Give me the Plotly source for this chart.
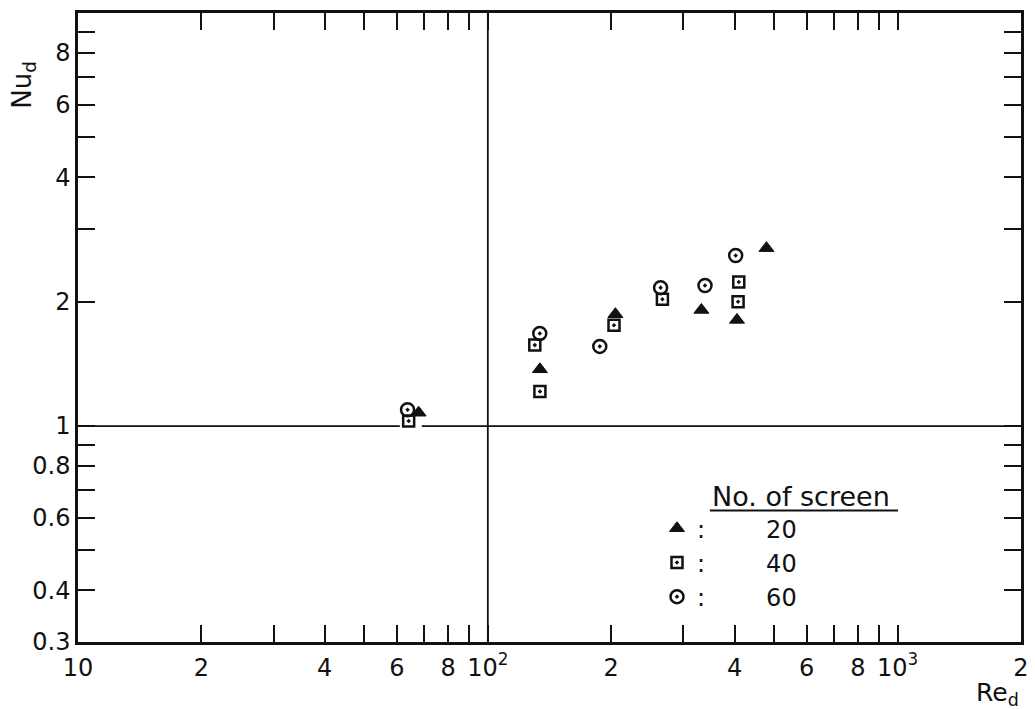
import plotly.graph_objects as go
import math

# Data (Re_d, Nu_d)
re_20 = [67.8, 134.0, 204.8, 332.0, 405.5, 478.6]
nu_20 = [1.077, 1.372, 1.865, 1.910, 1.807, 2.696]
re_40 = [64.1, 130.2, 134.0, 203.2, 266.7, 409.6, 408.0]
nu_40 = [1.028, 1.570, 1.212, 1.754, 2.027, 2.232, 2.000]
re_60 = [63.7, 133.9, 187.6, 264.0, 338.8, 402.5]
nu_60 = [1.095, 1.676, 1.559, 2.163, 2.190, 2.587]

series_names = ["20", "40", "60"]

x_tickvals = [10, 20, 30, 40, 50, 60, 70, 80, 90, 100, 200, 300, 400, 500, 600, 700, 800, 900, 1000, 2000]
x_ticktext = ["10", "2", "", "4", "", "6", "", "8", "", "10<sup>2</sup>",
              "2", "", "4", "", "6", "", "8", "", "10<sup>3</sup>", "2"]
y_tickvals = [0.3, 0.4, 0.5, 0.6, 0.7, 0.8, 0.9, 1, 2, 3, 4, 5, 6, 7, 8, 9]
y_ticktext = ["0.3", "0.4", "", "0.6", "", "0.8", "", "1", "2", "", "4", "", "6", "", "8", ""]

x_range = [10, 2000]
y_range = [0.3, 10]

# reference lines
hline_y = 1
hline_seg1 = [10, 61]
hline_seg2 = [69, 2000]
vline_x = 100

FONT = "DejaVu Sans"
BLACK = "#111111"

fig = go.Figure()

# reference lines
fig.add_trace(go.Scatter(x=hline_seg1, y=[hline_y, hline_y], mode="lines",
                         line=dict(color=BLACK, width=1.8), showlegend=False, hoverinfo="skip"))
fig.add_trace(go.Scatter(x=hline_seg2, y=[hline_y, hline_y], mode="lines",
                         line=dict(color=BLACK, width=1.8), showlegend=False, hoverinfo="skip"))
fig.add_trace(go.Scatter(x=[vline_x, vline_x], y=y_range, mode="lines",
                         line=dict(color=BLACK, width=1.8), showlegend=False, hoverinfo="skip"))

nbsp = "&nbsp;" * 8
fig.add_trace(go.Scatter(x=re_20, y=nu_20, mode="markers", name=":" + nbsp + series_names[0],
                         legendgroup="a",
                         marker=dict(symbol="triangle-up", size=13, color=BLACK,
                                     line=dict(color=BLACK, width=1))))
fig.add_trace(go.Scatter(x=re_40, y=nu_40, mode="markers", name=":" + nbsp + series_names[1],
                         legendgroup="b",
                         marker=dict(symbol="square-open-dot", size=11, color=BLACK,
                                     line=dict(color=BLACK, width=2.5))))
fig.add_trace(go.Scatter(x=re_60, y=nu_60, mode="markers", name=":" + nbsp + series_names[2],
                         legendgroup="c",
                         marker=dict(symbol="circle-open-dot", size=13, color=BLACK,
                                     line=dict(color=BLACK, width=2.5))))

axis_common = dict(
    type="log",
    ticks="inside",
    ticklen=17,
    tickwidth=2.2,
    tickcolor=BLACK,
    showline=True,
    linecolor=BLACK,
    linewidth=2.5,
    mirror="ticks",
    showgrid=False,
    zeroline=False,
    tickfont=dict(family=FONT, size=24, color=BLACK),
)

fig.update_xaxes(range=[math.log10(x_range[0]), math.log10(x_range[1])],
                 tickvals=x_tickvals, ticktext=x_ticktext, ticklabelstandoff=2, **axis_common)
fig.update_yaxes(range=[math.log10(y_range[0]), math.log10(y_range[1])],
                 tickvals=y_tickvals, ticktext=y_ticktext, **axis_common)

fig.update_layout(
    width=1027, height=701,
    margin=dict(l=70, r=14, t=2, b=67),
    plot_bgcolor="white", paper_bgcolor="white",
    font=dict(family=FONT, color=BLACK),
    showlegend=True,
    legend=dict(x=0.614, y=0.216, xanchor="left", yanchor="top",
                font=dict(family=FONT, size=24, color=BLACK),
                bgcolor="rgba(0,0,0,0)", tracegroupgap=0, itemclick=False),
    annotations=[
        dict(text="No. of screen", xref="paper", yref="paper", x=0.670, y=0.231,
             xanchor="left", yanchor="middle", showarrow=False,
             font=dict(family=FONT, size=27, color=BLACK)),
        dict(text="Nu<sub>d</sub>", xref="paper", yref="paper", x=-0.058, y=0.885,
             xanchor="center", yanchor="middle", showarrow=False, textangle=-90,
             font=dict(family=FONT, size=26, color=BLACK)),
        dict(text="Re<sub>d</sub>", xref="paper", yref="paper", x=0.975, y=-0.082,
             xanchor="center", yanchor="middle", showarrow=False,
             font=dict(family=FONT, size=25, color=BLACK)),
    ],
    shapes=[
        dict(type="line", xref="paper", yref="paper", x0=0.670, x1=0.8696, y0=0.209, y1=0.209,
             line=dict(color=BLACK, width=2)),
    ],
)

fig.write_html("out.html")
